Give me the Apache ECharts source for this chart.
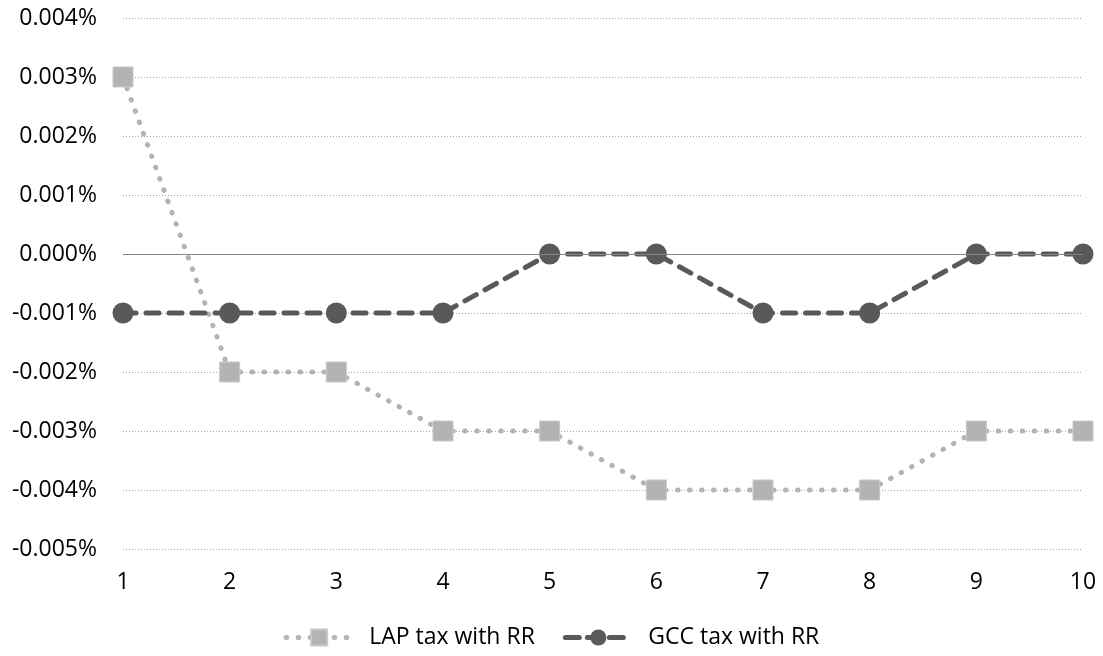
<!DOCTYPE html>
<html><head><meta charset="utf-8">
<script src="https://cdn.jsdelivr.net/npm/echarts@6/dist/echarts.min.js"></script>
<style>html,body{margin:0;padding:0;background:#fff}#c{width:1103px;height:656px}</style>
</head><body><div id="c"></div>
<script>
const categories = ['1','2','3','4','5','6','7','8','9','10'];
const lapValues = [0.003, -0.002, -0.002, -0.003, -0.003, -0.004, -0.004, -0.004, -0.003, -0.003];
const gccValues = [-0.001, -0.001, -0.001, -0.001, 0, 0, -0.001, -0.001, 0, 0];
const seriesNames = ['LAP tax with RR', 'GCC tax with RR'];
const yMin = -0.005, yMax = 0.004, yStep = 0.001;

const FONT = 'Open Sans';
const FS = 23;
const lapLine = {color: '#b3b3b3', width: 5, type: [0.5, 11.5], cap: 'round'};
const gccLine = {color: '#595959', width: 5, type: [13, 10], cap: 'round'};
const chart = echarts.init(document.getElementById('c'), null, {renderer: 'canvas'});
chart.setOption({
  animation: false,
  backgroundColor: '#fff',
  textStyle: {fontFamily: FONT},
  grid: {left: 123, right: 20, top: 18, bottom: 107, containLabel: false},
  legend: {
    bottom: 2, left: 'center', itemGap: 28, itemWidth: 66, itemHeight: 20,
    textStyle: {fontFamily: FONT, fontSize: FS, color: '#000', padding: [0, 0, 0, 12]},
    data: [
      {name: seriesNames[0], lineStyle: lapLine},
      {name: seriesNames[1], lineStyle: {color: '#595959', width: 5, type: [14, 8], cap: 'round'}}
    ]
  },
  xAxis: {
    type: 'category', data: categories, boundaryGap: false,
    axisLine: {show: false}, axisTick: {show: false},
    axisLabel: {fontFamily: FONT, fontSize: FS, color: '#000', margin: 22},
    splitLine: {show: false}
  },
  yAxis: {
    type: 'value', min: yMin, max: yMax, interval: yStep,
    axisLine: {show: false}, axisTick: {show: false},
    axisLabel: {fontFamily: FONT, fontSize: FS, color: '#000', margin: 26,
      formatter: v => v.toFixed(3) + '%'},
    splitLine: {show: true, lineStyle: {color: '#a6a6a6', type: [1, 2], width: 1}}
  },
  series: [
    {
      name: seriesNames[0], type: 'line', data: lapValues,
      symbol: 'rect', symbolSize: 20,
      itemStyle: {color: '#b3b3b3', borderColor: '#c8c8c8', borderWidth: 1},
      lineStyle: lapLine,
      markLine: {
        silent: true, symbol: 'none', label: {show: false},
        lineStyle: {color: '#868686', type: 'solid', width: 1},
        data: [{yAxis: 0}]
      },
      z: 2
    },
    {
      name: seriesNames[1], type: 'line', data: gccValues,
      symbol: 'circle', symbolSize: 21,
      itemStyle: {color: '#595959'},
      lineStyle: gccLine,
      z: 3
    }
  ]
});
</script></body></html>
